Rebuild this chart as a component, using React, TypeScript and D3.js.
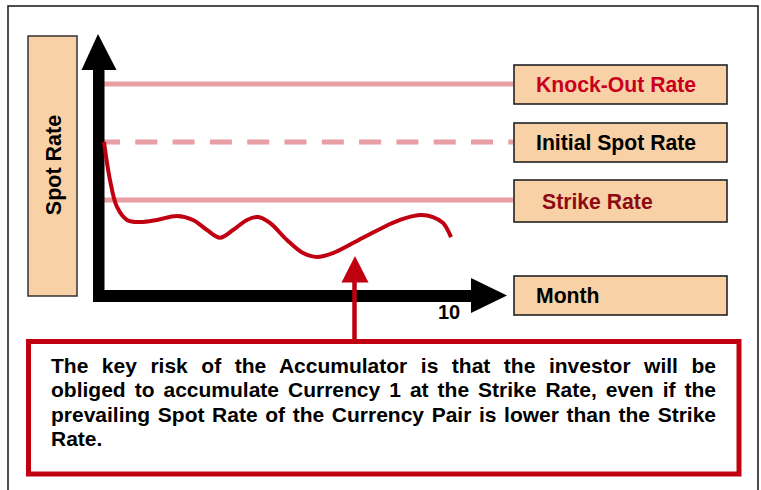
import React, { useLayoutEffect, useRef, useState } from "react";
import * as d3 from "d3";

// ---- Data ----
const months = [0, 0.174, 0.377, 0.667, 1.043, 1.536, 2.116, 2.58, 2.986, 3.362, 3.739, 4.145, 4.464, 4.81, 5.304, 5.768, 6.174, 6.638, 7.217, 8.0, 8.58, 9.16, 9.536, 9.826, 10.06];
const spotRates = [1.05, 1.0172, 0.994, 0.9828, 0.981, 0.9828, 0.9862, 0.9828, 0.9741, 0.9675, 0.9741, 0.9828, 0.9853, 0.9802, 0.9655, 0.9543, 0.9509, 0.9543, 0.9629, 0.975, 0.9828, 0.987, 0.9853, 0.9802, 0.968];
const levelNames = ["Knock-Out Rate", "Initial Spot Rate", "Strike Rate"];
const levelValues = [1.1, 1.05, 1.0];
const xTickValues = [10];
const xAxisLabel = "Month";
const yAxisLabel = "Spot Rate";
const noteLines = [
  "The key risk of the Accumulator is that the investor will be",
  "obliged to accumulate Currency 1 at the Strike Rate, even if the",
  "prevailing Spot Rate of the Currency Pair is lower than the Strike",
  "Rate.",
];

// ---- Styling ----
const FONT = '"Liberation Sans", Arial, Helvetica, sans-serif';
const PEACH = "#F9D1A6";
const PINK = "#E89EA3";
const RED = "#C00010";
const levelTextColors = ["#C8001E", "#000000", "#8E0A14"];
const levelTextX = [536, 536, 542];
const levelBoxY = [65, 123, 180];
const levelBoxH = [39, 39, 42];

export default function App() {
  const W = 761;
  const H = 490;
  const x = d3.scaleLinear().domain([0, 10]).range([104, 449]);
  const y = d3.scaleLinear().domain([0.95, 1.1]).range([258, 84]);

  const pts: [number, number][] = months.map((m, i) => [m, spotRates[i]]);
  const line = d3
    .line<[number, number]>()
    .x((d) => x(d[0]))
    .y((d) => y(d[1]))
    .curve(d3.curveCatmullRom.alpha(0.5));

  const noteLeft = 51;
  const noteRight = 716;
  const noteWidth = noteRight - noteLeft;
  const noteBaselines = [372.5, 397, 421.5, 446];
  const noteFont = 21;

  const refs = useRef<(SVGTextElement | null)[]>([]);
  const [spacings, setSpacings] = useState<number[]>(noteLines.map(() => 0));

  useLayoutEffect(() => {
    const sp = noteLines.map((l, i) => {
      const el = refs.current[i];
      if (!el || i === noteLines.length - 1) return 0;
      const n = l.split(" ").length - 1;
      const w = el.getComputedTextLength();
      return (noteWidth - w) / n;
    });
    setSpacings(sp);
  }, []);

  const lineEndX = 513;

  return (
    <svg
      width={W}
      height={H}
      style={{ position: "absolute", left: 0, top: 0, background: "#fff" }}
      fontFamily={FONT}
    >
      {/* outer frame */}
      <rect x={8} y={6} width={750} height={490} fill="#fff" stroke="#222" strokeWidth={1.6} />

      {/* Y axis label box */}
      <rect x={28} y={36} width={49} height={260} fill={PEACH} stroke="#333" strokeWidth={1.5} />
      <text
        transform={`translate(60.5,165) rotate(-90)`}
        textAnchor="middle"
        fontWeight="bold"
        fontSize={21.5}
        fill="#000"
      >
        {yAxisLabel}
      </text>

      {/* reference levels */}
      {levelValues.map((v, i) => (
        <line
          key={"lv" + i}
          x1={i === 1 ? 98 : x(0)}
          x2={lineEndX}
          y1={y(v)}
          y2={y(v)}
          stroke={PINK}
          strokeWidth={5}
          strokeDasharray={i === 1 ? "22 15.3" : undefined}
        />
      ))}

      {/* axes (thick arrows) */}
      <rect x={93} y={68} width={11.5} height={234} fill="#000" />
      <polygon points="98,34 81.5,70 116.5,70" fill="#000" />
      <rect x={98} y={290} width={375} height={12} fill="#000" />
      <polygon points="507,295.5 471,278 471,313" fill="#000" />
      {xTickValues.map((t) => (
        <text key={t} x={x(t)} y={318.5} textAnchor="middle" fontWeight="bold" fontSize={20} fill="#000">
          {t}
        </text>
      ))}

      {/* spot rate path */}
      <path d={line(pts) || ""} fill="none" stroke={RED} strokeWidth={4} strokeLinecap="butt" />

      {/* level label boxes */}
      {levelNames.map((name, i) => (
        <g key={"lb" + i}>
          <rect x={514} y={levelBoxY[i]} width={213} height={levelBoxH[i]} fill={PEACH} stroke="#222" strokeWidth={1.6} />
          <text
            x={levelTextX[i]}
            y={levelBoxY[i] + levelBoxH[i] / 2 + 7.5}
            fontWeight="bold"
            fontSize={21.2}
            fill={levelTextColors[i]}
          >
            {name}
          </text>
        </g>
      ))}
      <rect x={514} y={276} width={213} height={39} fill={PEACH} stroke="#222" strokeWidth={1.6} />
      <text x={536} y={303} fontWeight="bold" fontSize={21.2} fill="#000">
        {xAxisLabel}
      </text>

      {/* callout arrow */}
      <line x1={354.5} x2={354.5} y1={280} y2={342} stroke={RED} strokeWidth={4.5} />
      <polygon points="355,256 341.5,282.5 368.5,282.5" fill={RED} />

      {/* note box */}
      <rect x={28.5} y={341.5} width={710.5} height={132.5} fill="#fff" stroke={RED} strokeWidth={5} />
      {noteLines.map((l, i) => (
        <text
          key={"n" + i}
          ref={(el) => {
            refs.current[i] = el;
          }}
          x={noteLeft}
          y={noteBaselines[i]}
          fontWeight="bold"
          fontSize={noteFont}
          fill="#000"
          style={{ wordSpacing: `${spacings[i]}px` }}
        >
          {l}
        </text>
      ))}
    </svg>
  );
}
